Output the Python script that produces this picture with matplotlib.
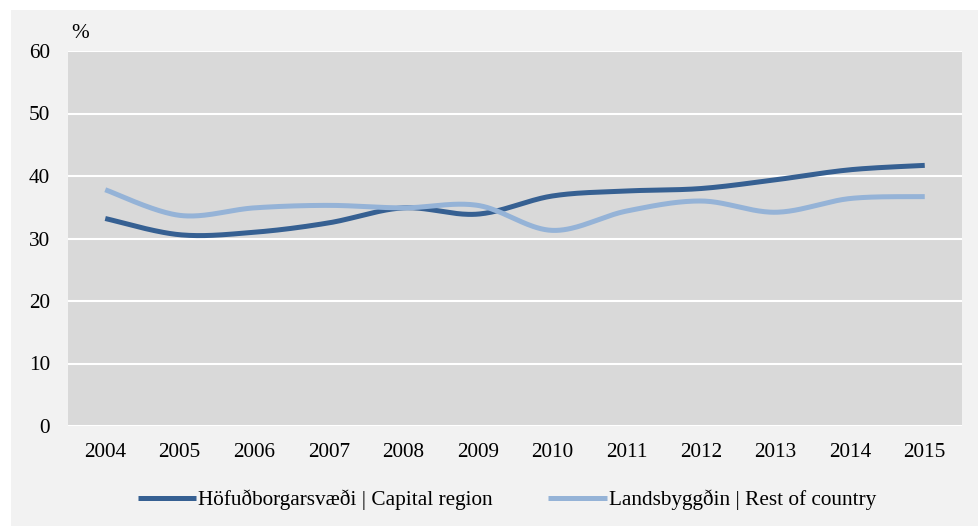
import numpy as np
import matplotlib
matplotlib.use("Agg")
import matplotlib.pyplot as plt
from matplotlib.patches import Rectangle
from matplotlib.lines import Line2D

years = ["2004", "2005", "2006", "2007", "2008", "2009", "2010", "2011", "2012", "2013", "2014", "2015"]
capital = [33.2, 30.6, 31.0, 32.5, 34.9, 33.9, 36.8, 37.6, 38.0, 39.4, 41.0, 41.7]
rest = [37.8, 33.7, 34.9, 35.3, 34.9, 35.3, 31.3, 34.4, 36.0, 34.2, 36.4, 36.7]
labels = ["Höfuðborgarsvæði | Capital region", "Landsbyggðin | Rest of country"]
colors = ["#366092", "#95B3D7"]
yticks = [0, 10, 20, 30, 40, 50, 60]

plt.rcParams['font.family'] = ['Liberation Serif', 'DejaVu Serif']
FS = 15.3


def smooth(y, n=40):
    """Excel-style smoothed line (Catmull-Rom Bezier)."""
    y = np.asarray(y, float)
    x = np.arange(len(y), dtype=float)
    P = np.column_stack([x, y])
    Pe = np.vstack([P[0], P, P[-1]])
    out = []
    t = np.linspace(0, 1, n)[:, None]
    for i in range(len(P) - 1):
        p0 = Pe[i + 1]
        p3 = Pe[i + 2]
        c1 = p0 + (Pe[i + 2] - Pe[i]) / 6.0
        c2 = p3 - (Pe[i + 3] - Pe[i + 1]) / 6.0
        seg = ((1 - t) ** 3) * p0 + 3 * ((1 - t) ** 2) * t * c1 + 3 * (1 - t) * t ** 2 * c2 + t ** 3 * p3
        out.append(seg if i == 0 else seg[1:])
    c = np.vstack(out)
    return c[:, 0], c[:, 1]


W, H = 979, 526
fig = plt.figure(figsize=(W / 100, H / 100), dpi=100, facecolor="white")
fig.patches.append(Rectangle((11 / W, 0), 1 - 11 / W, 1 - 10 / H, transform=fig.transFigure,
                             facecolor="#F2F2F2", edgecolor="none", zorder=-10))

ax = fig.add_axes([68 / W, (H - 426) / H, (962 - 68) / W, (426 - 51) / H])
ax.set_zorder(1)
ax.set_facecolor("#D9D9D9")
for s in ax.spines.values():
    s.set_visible(False)

for series, col, lab in zip([capital, rest], colors, labels):
    xs, ys = smooth(series)
    ax.plot(xs, ys, color=col, lw=3.6, solid_capstyle="butt", solid_joinstyle="round", label=lab, zorder=3)

ax.set_xlim(-0.5, len(years) - 0.5)
ax.set_ylim(0, 60)
ax.set_yticks(yticks)
ax.set_yticklabels([str(v) for v in yticks])
ax.set_xticks(range(len(years)))
ax.set_xticklabels(years)
ax.grid(axis="y", color="white", lw=1.5, zorder=1)
ax.set_axisbelow(True)
ax.tick_params(axis="both", length=0, labelsize=FS, colors="black")
ax.tick_params(axis="x", pad=12)
ax.tick_params(axis="y", pad=13)

fig.text(71 / W, 1 - 34 / H, "%", fontsize=FS, ha="left", va="center")

handles = [Line2D([], [], color=c, lw=3.6, solid_capstyle="butt") for c in colors]
fig.legend(handles, labels, loc="center", bbox_to_anchor=(507 / W, 26 / H), ncol=2, frameon=False,
           fontsize=FS, handlelength=2.75, handletextpad=0.1, columnspacing=2.6)

fig.savefig("out.png", dpi=100, facecolor=fig.get_facecolor())
